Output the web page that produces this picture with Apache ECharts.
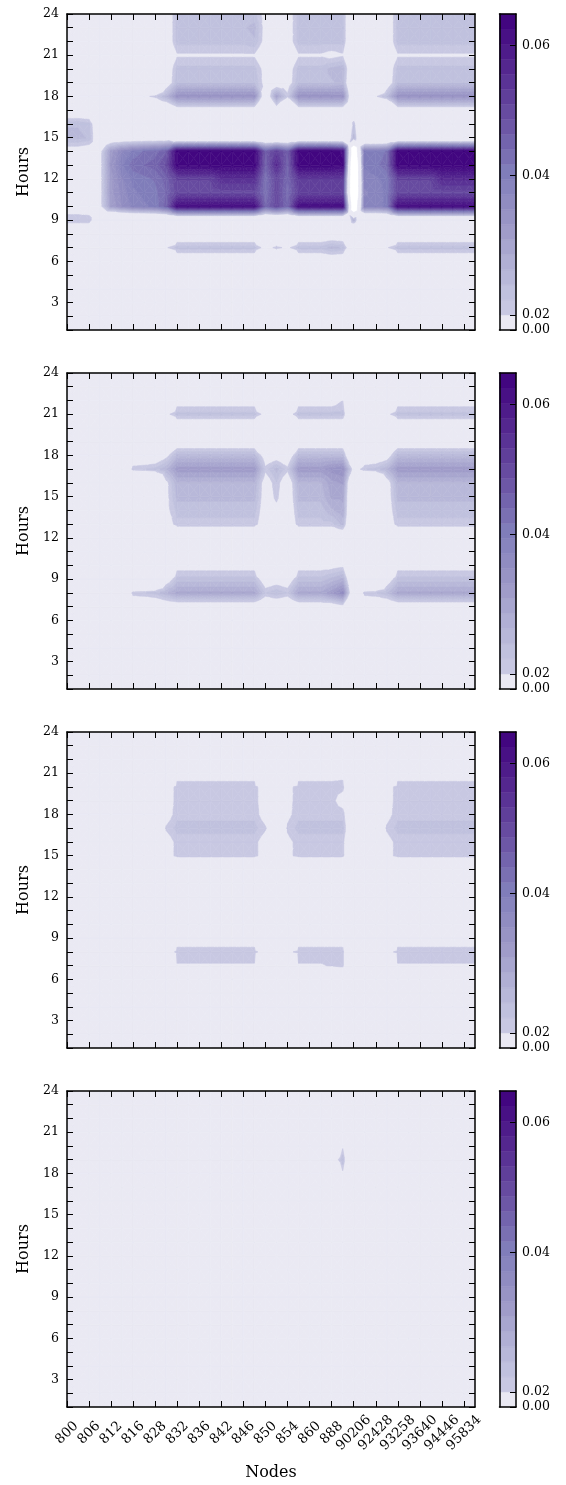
<!DOCTYPE html>
<html><head><meta charset="utf-8">
<script src="https://cdn.jsdelivr.net/npm/echarts@6/dist/echarts.min.js"></script>
<style>html,body{margin:0;padding:0;background:#fff}#c{width:566px;height:1485px}</style>
</head><body><div id="c"></div>
<script>
// x tick labels: one label every second node column (38 node columns in total)
const nodeLabels = ['800','806','812','816','828','832','836','842','846','850','854','860','888','90206','92428','93258','93640','94446','95834'];
// row order of every grid below (top row = hour 24)
const hours = [24,23,22,21,20,19,18,17,16,15,14,13,12,11,10,9,8,7,6,5,4,3,2,1];
// contour levels (colourbar bands, evenly spaced on the bar)
const levels = [0, .0200, .0222, .0243, .0265, .0286, .0308, .0329, .0351, .0373, .0394, .0417, .0440, .0463, .0486, .0509, .0533, .0556, .0579, .0602, .0625, .0648];
const colorbarTicks = [0, 0.02, 0.04, 0.06];
const colorbarTickLabels = ['0.00', '0.02', '0.04', '0.06'];
const hourTickLabels = [3, 6, 9, 12, 15, 18, 21, 24];

// 38 columns per row: c0..c9 | c10..c17 | c18..c20 | c21..c25 | c26..c29 | c30..c37
const panel1 = [
[0,0,0,0,0,0,0,0,0,.0155, .023,.023,.023,.023,.023,.023,.023,.023, .018,0,.017, .023,.023,.023,.023,.023, .01,0,0,.0155, .023,.023,.023,.023,.023,.023,.023,.023],
[0,0,0,0,0,0,0,0,0,.0155, .023,.023,.023,.023,.023,.023,.024,.025, .018,0,.017, .023,.023,.023,.023,.023, .01,0,0,.0155, .023,.023,.023,.023,.023,.023,.023,.023],
[0,0,0,0,0,0,0,0,0,.0155, .023,.023,.023,.023,.023,.023,.023,.024, .018,0,.017, .023,.023,.023,.023,.023, .01,0,0,.0155, .023,.023,.023,.023,.023,.023,.023,.023],
[0,0,0,0,0,0,0,0,0,.014, .0195,.0195,.0195,.0195,.0195,.0195,.0195,.0195, .015,0,.014, .0195,.0195,.0195,.0185,.0195, .008,0,0,.014, .0195,.0195,.0195,.0195,.0195,.0195,.0195,.0195],
[0,0,0,0,0,0,0,0,0,.0155, .023,.023,.023,.023,.023,.023,.023,.023, .018,0,.017, .023,.023,.023,.025,.026, .01,0,0,.0155, .023,.023,.023,.023,.023,.023,.023,.023],
[0,0,0,0,0,0,0,0,0,.0155, .024,.024,.024,.024,.024,.024,.024,.024, .018,.015,.017, .024,.024,.024,.024,.025, .008,0,0,.0155, .024,.024,.024,.024,.024,.024,.024,.024],
[0,0,0,0,0,0,0,.019,.021,.026, .034,.034,.034,.034,.034,.034,.034,.034, .012,.03,.021, .034,.034,.034,.034,.034, .008,.012,.0195,.024, .034,.034,.034,.034,.034,.034,.034,.034],
[.014,.014,.014,0,0,0,0,0,.01,.01, .0153,.0153,.0153,.0153,.0153,.0153,.0153,.0153, 0,.015,0, .0153,.0153,.0153,.0153,.0153, .012,0,0,0, .0153,.0153,.0153,.0153,.0153,.0153,.0153,.0153],
[.024,.024,.023,.012,0,0,0,0,0,0, 0,0,0,0,0,0,0,0, 0,0,0, 0,0,0,0,0, .022,0,0,0, 0,0,0,0,0,0,0,0],
[.025,.025,.024,.012,.012,.012,.012,.012,.012,.012, .002,.002,.002,.002,.002,.002,.002,.002, .002,.002,.002, .002,.002,.002,.002,.002, .025,.002,.002,.002, .002,.002,.002,.002,.002,.002,.002,.002],
[.017,.017,.016,.018,.032,.037,.04,.042,.043,.046, .064,.064,.064,.064,.064,.064,.064,.064, .046,.052,.046, .064,.064,.064,.064,.062, -.02,.04,.04,.042, .064,.064,.064,.064,.064,.064,.064,.064],
[.01,.01,.01,.018,.033,.039,.043,.044,.045,.049, .064,.064,.064,.064,.064,.064,.064,.064, .045,.056,.045, .064,.064,.064,.064,.063, -.03,.04,.041,.043, .064,.064,.064,.064,.064,.064,.064,.064],
[0,0,0,.018,.032,.037,.04,.041,.042,.045, .051,.051,.051,.051,.055,.055,.055,.055, .042,.05,.044, .053,.053,.053,.053,.053, -.03,.038,.039,.04, .051,.051,.051,.051,.056,.056,.056,.056],
[0,0,0,.018,.032,.036,.039,.04,.041,.044, .05,.05,.05,.05,.05,.05,.05,.05, .042,.05,.043, .051,.051,.051,.051,.051, -.03,.037,.038,.04, .05,.05,.05,.05,.05,.05,.05,.05],
[.017,.017,.016,.018,.031,.035,.038,.039,.04,.045, .062,.062,.062,.062,.062,.062,.062,.062, .044,.05,.044, .062,.062,.062,.062,.062, -.02,.038,.038,.04, .062,.062,.062,.062,.062,.062,.062,.062],
[.022,.022,.022,.012,0,0,0,0,0,0, 0,0,0,0,0,0,0,0, 0,0,0, 0,0,0,0,0, .026,0,0,0, 0,0,0,0,0,0,0,0],
[.012,.012,.012,0,0,0,0,0,0,0, .015,.015,.015,.015,.015,.015,.015,.015, 0,.013,0, .015,.015,.015,.015,.015, 0,0,0,0, .015,.015,.015,.015,.015,.015,.015,.015],
[0,0,0,0,0,0,0,0,0,.0195, .023,.023,.023,.023,.023,.023,.023,.023, .018,.021,.019, .023,.023,.023,.025,.024, .012,.01,.01,.0195, .023,.023,.023,.023,.023,.023,.023,.023],
[0,0,0,0,0,0,0,0,0,0, .015,.015,.015,.015,.015,.015,.015,.015, 0,.013,0, .015,.015,.015,.015,.015, 0,0,0,0, .015,.015,.015,.015,.015,.015,.015,.015],
[0,0,0,0,0,0,0,0,0,0, 0,0,0,0,0,0,0,0, 0,0,0, 0,0,0,0,0, 0,0,0,0, 0,0,0,0,0,0,0,0],
[0,0,0,0,0,0,0,0,0,0, 0,0,0,0,0,0,0,0, 0,0,0, 0,0,0,0,0, 0,0,0,0, 0,0,0,0,0,0,0,0],
[0,0,0,0,0,0,0,0,0,0, 0,0,0,0,0,0,0,0, 0,0,0, 0,0,0,0,0, 0,0,0,0, 0,0,0,0,0,0,0,0],
[0,0,0,0,0,0,0,0,0,0, 0,0,0,0,0,0,0,0, 0,0,0, 0,0,0,0,0, 0,0,0,0, 0,0,0,0,0,0,0,0],
[0,0,0,0,0,0,0,0,0,0, 0,0,0,0,0,0,0,0, 0,0,0, 0,0,0,0,0, 0,0,0,0, 0,0,0,0,0,0,0,0]
];

const panel2 = [
[0,0,0,0,0,0,0,0,0,0, 0,0,0,0,0,0,0,0, 0,0,0, 0,0,0,0,0, 0,0,0,0, 0,0,0,0,0,0,0,0],
[0,0,0,0,0,0,0,0,0,0, 0,0,0,0,0,0,0,0, 0,0,0, 0,0,0,0,0, 0,0,0,0, 0,0,0,0,0,0,0,0],
[0,0,0,0,0,0,0,0,0,0, .0175,.0175,.0175,.0175,.0175,.0175,.0175,.0175, 0,0,0, .0175,.0175,.0175,.0175,.02, 0,0,0,0, .0175,.0175,.0175,.0175,.0175,.0175,.0175,.0175],
[0,0,0,0,0,0,0,0,0,.0185, .023,.023,.023,.023,.023,.023,.023,.023, .018,0,.017, .023,.023,.023,.023,.023, .005,0,0,.0185, .023,.023,.023,.023,.023,.023,.023,.023],
[0,0,0,0,0,0,0,0,0,0, .014,.014,.014,.014,.014,.014,.014,.014, 0,0,0, .014,.014,.014,.014,.014, 0,0,0,0, .014,.014,.014,.014,.014,.014,.014,.014],
[0,0,0,0,0,0,0,0,0,.01, .015,.015,.015,.015,.015,.015,.015,.015, 0,0,0, .015,.015,.015,.015,.015, 0,0,0,.01, .015,.015,.015,.015,.015,.015,.015,.015],
[0,0,0,0,0,0,.015,.015,.015,.0185, .025,.025,.025,.025,.025,.025,.025,.025, .0167,.017,.015, .025,.025,.025,.025,.025, .005,.015,.015,.0167, .025,.025,.025,.025,.025,.025,.025,.025],
[0,0,0,0,0,.01,.0215,.022,.023,.026, .032,.032,.032,.032,.032,.032,.032,.032, .021,.025,.021, .032,.032,.032,.034,.035, .017,.022,.023,.026, .032,.032,.032,.032,.032,.032,.032,.032],
[0,0,0,0,0,0,0,0,0,.0185, .026,.026,.026,.026,.026,.026,.026,.026, .0167,.022,.015, .026,.026,.026,.03,.031, .005,0,0,.0167, .026,.026,.026,.026,.026,.026,.026,.026],
[0,0,0,0,0,0,0,0,0,.0185, .025,.025,.025,.025,.025,.025,.025,.025, .0167,.021,.015, .025,.025,.025,.029,.029, .005,0,0,.0167, .025,.025,.025,.025,.025,.025,.025,.025],
[0,0,0,0,0,0,0,0,0,.0185, .023,.023,.023,.023,.023,.023,.023,.023, .0167,.0185,.015, .023,.023,.023,.026,.028, .005,0,0,.0167, .023,.023,.023,.023,.023,.023,.023,.023],
[0,0,0,0,0,0,0,0,0,.017, .0215,.0215,.0215,.0215,.0215,.0215,.0215,.0215, .016,.0175,.015, .0215,.0215,.0215,.0215,.025, .005,0,0,.016, .0215,.0215,.0215,.0215,.0215,.0215,.0215,.0215],
[0,0,0,0,0,0,0,0,0,0, .012,.012,.012,.012,.012,.012,.012,.012, 0,0,0, .012,.012,.012,.012,.012, 0,0,0,0, .012,.012,.012,.012,.012,.012,.012,.012],
[0,0,0,0,0,0,0,0,0,0, 0,0,0,0,0,0,0,0, 0,0,0, 0,0,0,0,0, 0,0,0,0, 0,0,0,0,0,0,0,0],
[0,0,0,0,0,0,0,0,0,0, .018,.018,.018,.018,.018,.018,.018,.018, 0,0,0, .018,.018,.018,.018,.019, 0,0,0,0, .018,.018,.018,.018,.018,.018,.018,.018],
[0,0,0,0,0,0,0,0,0,.016, .023,.023,.023,.023,.023,.023,.023,.023, .016,.017,.016, .023,.023,.023,.025,.027, .008,0,0,.016, .023,.023,.023,.023,.023,.023,.023,.023],
[0,0,0,0,0,.01,.0215,.022,.023,.026, .029,.029,.029,.029,.029,.029,.029,.029, .022,.024,.022, .029,.029,.029,.032,.036, .01,.0215,.022,.024, .029,.029,.029,.029,.029,.029,.029,.029],
[0,0,0,0,0,0,.014,.014,.014,.015, .0155,.0155,.0155,.0155,.0155,.0155,.0155,.0155, .014,.014,.014, .0155,.0155,.0155,.0155,.018, 0,.014,.014,.014, .0155,.0155,.0155,.0155,.0155,.0155,.0155,.0155],
[0,0,0,0,0,0,0,0,0,0, 0,0,0,0,0,0,0,0, 0,0,0, 0,0,0,0,0, 0,0,0,0, 0,0,0,0,0,0,0,0],
[0,0,0,0,0,0,0,0,0,0, 0,0,0,0,0,0,0,0, 0,0,0, 0,0,0,0,0, 0,0,0,0, 0,0,0,0,0,0,0,0],
[0,0,0,0,0,0,0,0,0,0, 0,0,0,0,0,0,0,0, 0,0,0, 0,0,0,0,0, 0,0,0,0, 0,0,0,0,0,0,0,0],
[0,0,0,0,0,0,0,0,0,0, 0,0,0,0,0,0,0,0, 0,0,0, 0,0,0,0,0, 0,0,0,0, 0,0,0,0,0,0,0,0],
[0,0,0,0,0,0,0,0,0,0, 0,0,0,0,0,0,0,0, 0,0,0, 0,0,0,0,0, 0,0,0,0, 0,0,0,0,0,0,0,0],
[0,0,0,0,0,0,0,0,0,0, 0,0,0,0,0,0,0,0, 0,0,0, 0,0,0,0,0, 0,0,0,0, 0,0,0,0,0,0,0,0]
];

const panel3 = [
[0,0,0,0,0,0,0,0,0,0, 0,0,0,0,0,0,0,0, 0,0,0, 0,0,0,0,0, 0,0,0,0, 0,0,0,0,0,0,0,0],
[0,0,0,0,0,0,0,0,0,0, 0,0,0,0,0,0,0,0, 0,0,0, 0,0,0,0,0, 0,0,0,0, 0,0,0,0,0,0,0,0],
[0,0,0,0,0,0,0,0,0,0, 0,0,0,0,0,0,0,0, 0,0,0, 0,0,0,0,0, 0,0,0,0, 0,0,0,0,0,0,0,0],
[0,0,0,0,0,0,0,0,0,0, .0185,.0185,.0185,.0185,.0185,.0185,.0185,.0185, 0,0,0, .0185,.0185,.0185,.0185,.019, 0,0,0,0, .0185,.0185,.0185,.0185,.0185,.0185,.0185,.0185],
[0,0,0,0,0,0,0,0,0,.0177, .021,.021,.021,.021,.021,.021,.021,.021, .0177,0,.019, .021,.021,.021,.021,.021, .011,0,0,.0185, .021,.021,.021,.021,.021,.021,.021,.021],
[0,0,0,0,0,0,0,0,0,.0177, .021,.021,.021,.021,.021,.021,.021,.021, .0177,0,.019, .021,.021,.021,.021,.018, .011,0,0,.0185, .021,.021,.021,.021,.021,.021,.021,.021],
[0,0,0,0,0,0,0,0,0,.0177, .0215,.0215,.0215,.0215,.0215,.0215,.0215,.0215, .0177,0,.019, .0215,.0215,.0215,.0215,.0215, .011,0,0,.0185, .0215,.0215,.0215,.0215,.0215,.0215,.0215,.0215],
[0,0,0,0,0,0,0,0,.0155,.0205, .023,.023,.023,.023,.023,.023,.023,.023, .0205,.0155,.0205, .023,.023,.023,.023,.023, .011,0,.0155,.0205, .023,.023,.023,.023,.023,.023,.023,.023],
[0,0,0,0,0,0,0,0,0,.0177, .021,.021,.021,.021,.021,.021,.021,.021, .0177,0,.019, .021,.021,.021,.021,.021, .011,0,0,.0185, .021,.021,.021,.021,.021,.021,.021,.021],
[0,0,0,0,0,0,0,0,0,.0177, .021,.021,.021,.021,.021,.021,.021,.021, .0177,0,.019, .021,.021,.021,.021,.021, .011,0,0,.0185, .021,.021,.021,.021,.021,.021,.021,.021],
[0,0,0,0,0,0,0,0,0,0, .0102,.0102,.0102,.0102,.0102,.0102,.0102,.0102, 0,0,0, .0102,.0102,.0102,.0102,.0102, 0,0,0,0, .0102,.0102,.0102,.0102,.0102,.0102,.0102,.0102],
[0,0,0,0,0,0,0,0,0,0, 0,0,0,0,0,0,0,0, 0,0,0, 0,0,0,0,0, 0,0,0,0, 0,0,0,0,0,0,0,0],
[0,0,0,0,0,0,0,0,0,0, 0,0,0,0,0,0,0,0, 0,0,0, 0,0,0,0,0, 0,0,0,0, 0,0,0,0,0,0,0,0],
[0,0,0,0,0,0,0,0,0,0, 0,0,0,0,0,0,0,0, 0,0,0, 0,0,0,0,0, 0,0,0,0, 0,0,0,0,0,0,0,0],
[0,0,0,0,0,0,0,0,0,0, 0,0,0,0,0,0,0,0, 0,0,0, 0,0,0,0,0, 0,0,0,0, 0,0,0,0,0,0,0,0],
[0,0,0,0,0,0,0,0,0,0, .018,.018,.018,.018,.018,.018,.018,.018, 0,0,0, .018,.018,.018,.018,.018, 0,0,0,0, .018,.018,.018,.018,.018,.018,.018,.018],
[0,0,0,0,0,0,0,0,0,.017, .021,.021,.021,.021,.021,.021,.021,.021, .0177,0,.019, .021,.021,.021,.021,.021, .011,0,0,.0185, .021,.021,.021,.021,.021,.021,.021,.021],
[0,0,0,0,0,0,0,0,0,0, .0198,.0198,.0198,.0198,.0198,.0198,.0198,.0198, 0,0,0, .0198,.0198,.0198,.0202,.021, 0,0,0,0, .0198,.0198,.0198,.0198,.0198,.0198,.0198,.0198],
[0,0,0,0,0,0,0,0,0,0, .012,.012,.012,.012,.012,.012,.012,.012, 0,0,0, .012,.012,.012,.012,.012, 0,0,0,0, .012,.012,.012,.012,.012,.012,.012,.012],
[0,0,0,0,0,0,0,0,0,0, 0,0,0,0,0,0,0,0, 0,0,0, 0,0,0,0,0, 0,0,0,0, 0,0,0,0,0,0,0,0],
[0,0,0,0,0,0,0,0,0,0, 0,0,0,0,0,0,0,0, 0,0,0, 0,0,0,0,0, 0,0,0,0, 0,0,0,0,0,0,0,0],
[0,0,0,0,0,0,0,0,0,0, 0,0,0,0,0,0,0,0, 0,0,0, 0,0,0,0,0, 0,0,0,0, 0,0,0,0,0,0,0,0],
[0,0,0,0,0,0,0,0,0,0, 0,0,0,0,0,0,0,0, 0,0,0, 0,0,0,0,0, 0,0,0,0, 0,0,0,0,0,0,0,0],
[0,0,0,0,0,0,0,0,0,0, 0,0,0,0,0,0,0,0, 0,0,0, 0,0,0,0,0, 0,0,0,0, 0,0,0,0,0,0,0,0]
];

const panel4 = [
[0,0,0,0,0,0,0,0,0,0, 0,0,0,0,0,0,0,0, 0,0,0, 0,0,0,0,0, 0,0,0,0, 0,0,0,0,0,0,0,0],
[0,0,0,0,0,0,0,0,0,0, 0,0,0,0,0,0,0,0, 0,0,0, 0,0,0,0,0, 0,0,0,0, 0,0,0,0,0,0,0,0],
[0,0,0,0,0,0,0,0,0,0, 0,0,0,0,0,0,0,0, 0,0,0, 0,0,0,0,0, 0,0,0,0, 0,0,0,0,0,0,0,0],
[0,0,0,0,0,0,0,0,0,0, 0,0,0,0,0,0,0,0, 0,0,0, 0,0,0,0,0, 0,0,0,0, 0,0,0,0,0,0,0,0],
[0,0,0,0,0,0,0,0,0,0, 0,0,0,0,0,0,0,0, 0,0,0, 0,0,0,0,.019, 0,0,0,0, 0,0,0,0,0,0,0,0],
[0,0,0,0,0,0,0,0,0,0, 0,0,0,0,0,0,0,0, 0,0,0, 0,0,0,.014,.024, 0,0,0,0, 0,0,0,0,0,0,0,0],
[0,0,0,0,0,0,0,0,0,0, 0,0,0,0,0,0,0,0, 0,0,0, 0,0,0,0,.019, 0,0,0,0, 0,0,0,0,0,0,0,0],
[0,0,0,0,0,0,0,0,0,0, 0,0,0,0,0,0,0,0, 0,0,0, 0,0,0,0,0, 0,0,0,0, 0,0,0,0,0,0,0,0],
[0,0,0,0,0,0,0,0,0,0, 0,0,0,0,0,0,0,0, 0,0,0, 0,0,0,0,0, 0,0,0,0, 0,0,0,0,0,0,0,0],
[0,0,0,0,0,0,0,0,0,0, 0,0,0,0,0,0,0,0, 0,0,0, 0,0,0,0,0, 0,0,0,0, 0,0,0,0,0,0,0,0],
[0,0,0,0,0,0,0,0,0,0, 0,0,0,0,0,0,0,0, 0,0,0, 0,0,0,0,0, 0,0,0,0, 0,0,0,0,0,0,0,0],
[0,0,0,0,0,0,0,0,0,0, 0,0,0,0,0,0,0,0, 0,0,0, 0,0,0,0,0, 0,0,0,0, 0,0,0,0,0,0,0,0],
[0,0,0,0,0,0,0,0,0,0, 0,0,0,0,0,0,0,0, 0,0,0, 0,0,0,0,0, 0,0,0,0, 0,0,0,0,0,0,0,0],
[0,0,0,0,0,0,0,0,0,0, 0,0,0,0,0,0,0,0, 0,0,0, 0,0,0,0,0, 0,0,0,0, 0,0,0,0,0,0,0,0],
[0,0,0,0,0,0,0,0,0,0, 0,0,0,0,0,0,0,0, 0,0,0, 0,0,0,0,0, 0,0,0,0, 0,0,0,0,0,0,0,0],
[0,0,0,0,0,0,0,0,0,0, 0,0,0,0,0,0,0,0, 0,0,0, 0,0,0,0,0, 0,0,0,0, 0,0,0,0,0,0,0,0],
[0,0,0,0,0,0,0,0,0,0, 0,0,0,0,0,0,0,0, 0,0,0, 0,0,0,0,0, 0,0,0,0, 0,0,0,0,0,0,0,0],
[0,0,0,0,0,0,0,0,0,0, 0,0,0,0,0,0,0,0, 0,0,0, 0,0,0,0,0, 0,0,0,0, 0,0,0,0,0,0,0,0],
[0,0,0,0,0,0,0,0,0,0, 0,0,0,0,0,0,0,0, 0,0,0, 0,0,0,0,0, 0,0,0,0, 0,0,0,0,0,0,0,0],
[0,0,0,0,0,0,0,0,0,0, 0,0,0,0,0,0,0,0, 0,0,0, 0,0,0,0,0, 0,0,0,0, 0,0,0,0,0,0,0,0],
[0,0,0,0,0,0,0,0,0,0, 0,0,0,0,0,0,0,0, 0,0,0, 0,0,0,0,0, 0,0,0,0, 0,0,0,0,0,0,0,0],
[0,0,0,0,0,0,0,0,0,0, 0,0,0,0,0,0,0,0, 0,0,0, 0,0,0,0,0, 0,0,0,0, 0,0,0,0,0,0,0,0],
[0,0,0,0,0,0,0,0,0,0, 0,0,0,0,0,0,0,0, 0,0,0, 0,0,0,0,0, 0,0,0,0, 0,0,0,0,0,0,0,0],
[0,0,0,0,0,0,0,0,0,0, 0,0,0,0,0,0,0,0, 0,0,0, 0,0,0,0,0, 0,0,0,0, 0,0,0,0,0,0,0,0]
];

const panels = [panel1, panel2, panel3, panel4];
panels.forEach((p, k) => {
  if (p.length !== hours.length) throw new Error('panel ' + (k+1) + ' rows ' + p.length);
  p.forEach((row, i) => { if (row.length !== 38) throw new Error('panel ' + (k+1) + ' row ' + i + ' len ' + row.length); });
});

// ---- colour map (matplotlib "Purples") ----
const PURPLES = ['#fcfbfd','#efedf5','#dadaeb','#bcbddc','#9e9ac8','#807dba','#6a51a3','#54278f','#3f007d'];
function hexToRgb(h){ return [parseInt(h.slice(1,3),16), parseInt(h.slice(3,5),16), parseInt(h.slice(5,7),16)]; }
function purples(t){
  t = Math.max(0, Math.min(1, t));
  const p = t * 8, i = Math.min(7, Math.floor(p)), f = p - i;
  const a = hexToRgb(PURPLES[i]), b = hexToRgb(PURPLES[i+1]);
  return 'rgb(' + a.map((v, j) => Math.round(v + (b[j]-v)*f)).join(',') + ')';
}
const nBands = levels.length - 1;
const lvMin = levels[0], lvMax = levels[nBands];
const bandColors = [];
for (let i = 0; i < nBands; i++) bandColors.push(purples(((levels[i]+levels[i+1])/2 - lvMin) / (lvMax - lvMin)));

// ---- filled-contour geometry (linear interpolation inside triangles) ----
function clipPoly(poly, lv, keepAbove, inclusive){
  const out = [];
  const inside = q => keepAbove ? q.v >= lv : (inclusive ? q.v <= lv : q.v < lv);
  for (let i = 0; i < poly.length; i++){
    const a = poly[i], b = poly[(i+1) % poly.length];
    const ia = inside(a), ib = inside(b);
    if (ia) out.push(a);
    if (ia !== ib){
      const t = (lv - a.v) / (b.v - a.v);
      out.push({x: a.x + t*(b.x-a.x), y: a.y + t*(b.y-a.y), v: lv});
    }
  }
  return out;
}
function contourRenderer(grid){
  const val = (c, h) => grid[hours.indexOf(h)][c];
  return function(params, api){
    const c = api.value(0), h = api.value(1);
    const bl = {x:c, y:h, v:val(c,h)}, br = {x:c+1, y:h, v:val(c+1,h)};
    const tr = {x:c+1, y:h+1, v:val(c+1,h+1)}, tl = {x:c, y:h+1, v:val(c,h+1)};
    const ce = {x:c+0.5, y:h+0.5, v:(bl.v+br.v+tr.v+tl.v)/4};
    const tris = [[bl,br,ce],[br,tr,ce],[tr,tl,ce],[tl,bl,ce]];
    const children = [];
    for (const t of tris){
      const vmin = Math.min(t[0].v, t[1].v, t[2].v), vmax = Math.max(t[0].v, t[1].v, t[2].v);
      for (let b = 0; b < nBands; b++){
        const lo = levels[b], hi = levels[b+1], last = b === nBands-1;
        if (vmax < lo || (last ? vmin > hi : vmin >= hi)) continue;
        let p = clipPoly(t, lo, true, true);
        if (p.length < 3) continue;
        p = clipPoly(p, hi, false, last);
        if (p.length < 3) continue;
        const col = bandColors[b];
        children.push({type:'polygon', shape:{points: p.map(q => api.coord([q.x, q.y]))},
          style:{fill: col, stroke: col, lineWidth: 0.6, lineJoin: 'round'}});
      }
    }
    return {type:'group', children};
  };
}
function colorbarRender(params, api){
  const i = api.value(1);
  const p0 = api.coord([0, i]), p1 = api.coord([1, i+1]);
  return {type:'rect', shape:{x:p0[0], y:p1[1], width:p1[0]-p0[0], height:p0[1]-p1[1]},
    style:{fill: bandColors[i], stroke: bandColors[i], lineWidth: 0.5}};
}
function levelPos(v){
  for (let i = 0; i < nBands; i++) if (v >= levels[i] && v <= levels[i+1]) return i + (v - levels[i])/(levels[i+1]-levels[i]);
  return nBands;
}
const cbPos = colorbarTicks.map(levelPos);
const xTickPos = nodeLabels.map((_, i) => 2*i);

// ---- layout ----
const FONT = 'DejaVu Serif';
const panelTops = [14, 373, 732, 1091];
const PH = 316, PL = 67, PW = 408, CBL = 499.5, CBW = 16.5;
const grids = [], xAxes = [], yAxes = [], series = [];
const lineSt = {color:'#000', width:1.5};
const tickSt = {color:'#000', width:1};

const cells = [];
for (let c = 0; c < 37; c++) for (let h = 1; h < 24; h++) cells.push([c, h]);
const cbData = bandColors.map((_, i) => [0, i]);

panels.forEach((grid, k) => {
  const last = k === panels.length - 1;
  const gMain = grids.length;
  grids.push({left: PL, top: panelTops[k], width: PW, height: PH, outerBoundsMode: 'none'});
  const gCb = grids.length;
  grids.push({left: CBL, top: panelTops[k], width: CBW, height: PH, outerBoundsMode: 'none'});

  const xMain = xAxes.length;
  xAxes.push({
    gridIndex: gMain, type:'value', min:0, max:37, position:'bottom', z: 5,
    axisLine:{show:true, onZero:false, lineStyle: lineSt},
    axisTick:{show:true, inside:true, length:6, customValues: xTickPos, lineStyle: tickSt},
    axisLabel: last ? {show:true, customValues: xTickPos, rotate:45, align:'center', verticalAlign:'middle', margin:26,
      fontFamily: FONT, fontSize: 13.5, color:'#000', formatter: v => nodeLabels[Math.round(v/2)] || ''} : {show:false},
    splitLine:{show:false},
    name: last ? 'Nodes' : '', nameLocation:'middle', nameGap: 58,
    nameTextStyle:{fontFamily: FONT, fontSize: 16, color:'#000'}
  });
  xAxes.push({
    gridIndex: gMain, type:'value', min:0, max:37, position:'top', z: 5,
    axisLine:{show:true, onZero:false, lineStyle: lineSt},
    axisTick:{show:true, inside:true, length:6, customValues: xTickPos, lineStyle: tickSt},
    axisLabel:{show:false}, splitLine:{show:false}
  });
  const yMain = yAxes.length;
  yAxes.push({
    gridIndex: gMain, type:'value', min:1, max:24, interval:1, position:'left', z: 5,
    axisLine:{show:true, onZero:false, lineStyle: lineSt},
    axisTick:{show:true, inside:true, length:6, lineStyle: tickSt},
    axisLabel:{show:true, margin:8, fontFamily: FONT, fontSize: 12.5, color:'#000',
      formatter: v => hourTickLabels.indexOf(v) >= 0 ? String(v) : ''},
    splitLine:{show:false},
    name:'Hours', nameLocation:'middle', nameGap: 34, nameRotate: 90,
    nameTextStyle:{fontFamily: FONT, fontSize: 16, color:'#000'}
  });
  yAxes.push({
    gridIndex: gMain, type:'value', min:1, max:24, interval:1, position:'right', z: 5,
    axisLine:{show:true, onZero:false, lineStyle: lineSt},
    axisTick:{show:true, inside:true, length:6, lineStyle: tickSt},
    axisLabel:{show:false}, splitLine:{show:false}
  });
  series.push({type:'custom', xAxisIndex: xMain, yAxisIndex: yMain, data: cells, encode:{x:0, y:1},
    renderItem: contourRenderer(grid), clip: true, silent: true, animation: false});

  // colour bar
  const xCb = xAxes.length;
  xAxes.push({gridIndex: gCb, type:'value', min:0, max:1, position:'bottom', z:5,
    axisLine:{show:true, onZero:false, lineStyle: lineSt}, axisTick:{show:false}, axisLabel:{show:false}, splitLine:{show:false}});
  xAxes.push({gridIndex: gCb, type:'value', min:0, max:1, position:'top', z:5,
    axisLine:{show:true, onZero:false, lineStyle: lineSt}, axisTick:{show:false}, axisLabel:{show:false}, splitLine:{show:false}});
  const yCb = yAxes.length;
  yAxes.push({gridIndex: gCb, type:'value', min:0, max:nBands, position:'left', z:5,
    axisLine:{show:true, onZero:false, lineStyle: lineSt}, axisTick:{show:false}, axisLabel:{show:false}, splitLine:{show:false}});
  yAxes.push({gridIndex: gCb, type:'value', min:0, max:nBands, position:'right', z:5,
    axisLine:{show:true, onZero:false, lineStyle: lineSt},
    axisTick:{show:true, inside:true, length:6, customValues: cbPos, lineStyle: tickSt},
    axisLabel:{show:true, customValues: cbPos, margin:6, fontFamily: FONT, fontSize: 12.5, color:'#000',
      formatter: v => { let best = 0; cbPos.forEach((p, i) => { if (Math.abs(p - v) < Math.abs(cbPos[best] - v)) best = i; }); return colorbarTickLabels[best]; }},
    splitLine:{show:false}});
  series.push({type:'custom', xAxisIndex: xCb, yAxisIndex: yCb, data: cbData, encode:{x:0, y:1},
    renderItem: colorbarRender, clip: false, silent: true, animation: false});
});

const chart = echarts.init(document.getElementById('c'), null, {renderer:'canvas'});
chart.setOption({
  animation: false,
  backgroundColor: '#ffffff',
  textStyle: {fontFamily: FONT},
  grid: grids, xAxis: xAxes, yAxis: yAxes, series: series
});
</script>
</body></html>
